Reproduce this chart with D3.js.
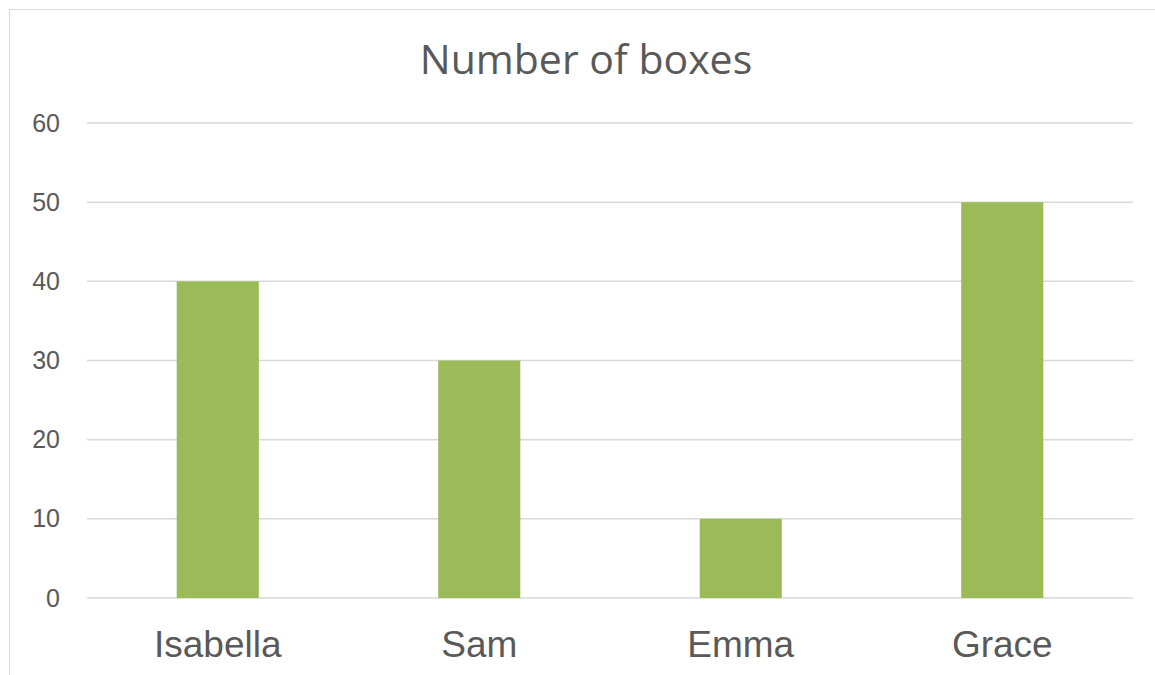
<html>
<head>
  <meta charset="UTF-8">
  <title>Number of boxes</title>
  <script src="https://d3js.org/d3.v7.min.js"></script>
  <style>
    body { margin: 0; background-color: white; }
  </style>
</head>
<body>
  <svg></svg>
</body>
<script>
  const names = ["Isabella", "Sam", "Emma", "Grace"];
  const boxes = [40, 30, 10, 50];
  const yTicks = [0, 10, 20, 30, 40, 50, 60];

  let width = 1155,
    height = 675;

  let svg = d3.select("svg")
    .attr("width", width)
    .attr("height", height);

  // chart frame
  svg.append("rect")
    .attr("x", 9.5).attr("y", 9.5)
    .attr("width", width).attr("height", height)
    .attr("fill", "white")
    .attr("stroke", "#d9d9d9");

  svg.append("text")
    .attr("x", 586).attr("y", 74)
    .attr("text-anchor", "middle")
    .style("font-family", "Open Sans")
    .style("font-size", "41px")
    .style("fill", "#595959")
    .text("Number of boxes");

  let x = d3.scaleBand()
    .domain(names)
    .range([87, 1133])
    .paddingInner(0.686)
    .paddingOuter(0.343);

  let y = d3.scaleLinear()
    .domain([0, 60])
    .range([598, 123]);

  // gridlines
  svg.append("g")
    .selectAll("line")
    .data(yTicks)
    .enter()
    .append("line")
    .attr("x1", 87).attr("x2", 1133)
    .attr("y1", d => y(d)).attr("y2", d => y(d))
    .attr("stroke", "#d9d9d9")
    .attr("stroke-width", 1.5);

  let yAxis = svg.append("g")
    .attr("transform", "translate(60,0)")
    .call(d3.axisLeft(y).tickValues(yTicks).tickSize(0).tickPadding(0));
  yAxis.select(".domain").remove();
  yAxis.selectAll("text")
    .style("font-family", "Liberation Sans")
    .style("font-size", "25px")
    .style("fill", "#595959");

  svg.append("g")
    .selectAll("rect")
    .data(boxes)
    .enter()
    .append("rect")
    .attr("x", (d, i) => x(names[i]))
    .attr("width", x.bandwidth())
    .attr("y", d => y(d))
    .attr("height", d => y(0) - y(d))
    .attr("fill", "#9bbb59");

  let xAxis = svg.append("g")
    .attr("transform", "translate(0,598)")
    .call(d3.axisBottom(x).tickSize(0).tickPadding(0));
  xAxis.select(".domain").remove();
  xAxis.selectAll("text")
    .attr("dy", null)
    .attr("y", 59)
    .style("font-family", "Liberation Sans")
    .style("font-size", "37px")
    .style("fill", "#595959");
</script>
</html>
